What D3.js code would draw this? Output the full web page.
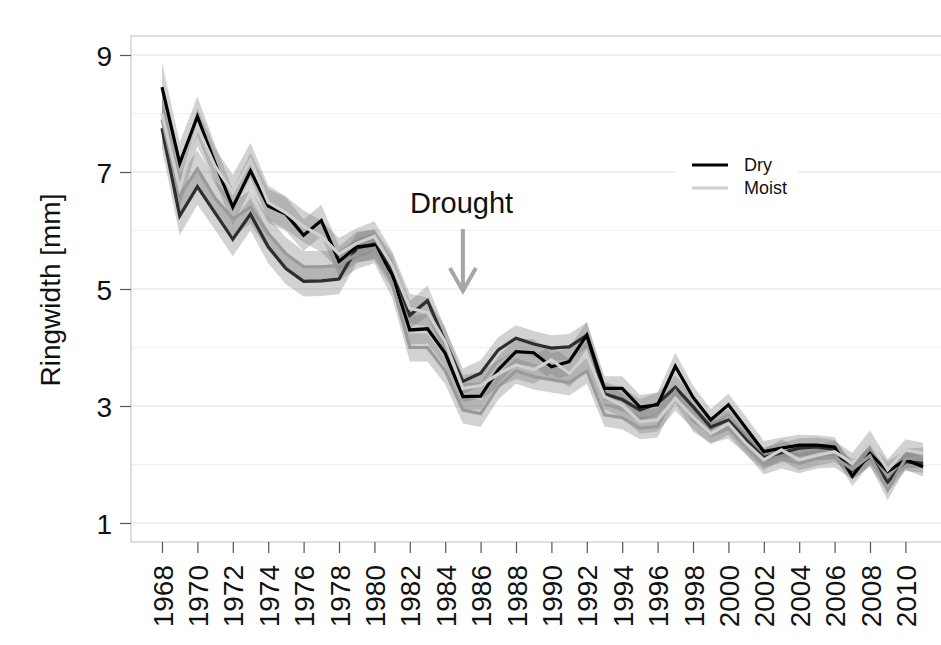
<!DOCTYPE html>
<html>
<head>
<meta charset="utf-8">
<script src="https://cdn.jsdelivr.net/npm/d3@7"></script>
<style>
  body { margin: 0; background: #fff; overflow: hidden; }
  text { font-family: "Liberation Sans", Arial, sans-serif; }
</style>
</head>
<body>
<div id="chart"></div>
<script>
// Years on the x axis
var years = [1968,1969,1970,1971,1972,1973,1974,1975,1976,1977,1978,1979,1980,1981,1982,1983,1984,1985,1986,1987,1988,1989,1990,1991,1992,1993,1994,1995,1996,1997,1998,1999,2000,2001,2002,2003,2004,2005,2006,2007,2008,2009,2010,2011];

// Mean ringwidth per stand [mm]
var dry1 = [8.45,7.15,7.95,7.15,6.40,7.02,6.42,6.28,5.92,6.17,5.47,5.72,5.75,5.25,4.30,4.32,3.90,3.16,3.17,3.62,3.93,3.91,3.67,3.76,4.21,3.30,3.30,2.98,3.02,3.68,3.15,2.76,3.02,2.62,2.22,2.28,2.33,2.33,2.30,1.80,2.19,1.88,2.08,1.96];
var dry2 = [7.75,6.25,6.75,6.30,5.85,6.28,5.72,5.35,5.13,5.14,5.17,5.70,5.77,5.35,4.55,4.80,4.10,3.42,3.56,3.96,4.16,4.06,3.99,4.01,4.21,3.21,3.11,2.93,3.04,3.32,2.99,2.64,2.76,2.42,2.12,2.20,2.28,2.30,2.26,1.90,2.13,1.70,2.05,2.02];
var moist1 = [8.00,6.72,7.77,7.10,6.65,7.20,6.48,6.30,6.07,5.90,5.60,5.78,5.90,5.40,4.67,4.60,4.10,3.30,3.35,3.55,3.70,3.62,3.79,3.56,3.87,3.16,3.01,2.73,2.76,3.13,2.81,2.53,2.70,2.36,2.08,2.25,2.08,2.16,2.22,2.02,2.39,1.91,2.25,2.19];
var moist2 = [7.90,6.60,7.05,6.55,6.20,6.40,5.95,5.60,5.38,5.38,5.40,5.60,5.70,5.10,4.00,4.00,3.60,2.93,2.87,3.33,3.60,3.50,3.45,3.40,3.60,2.85,2.80,2.62,2.65,3.25,2.75,2.55,2.62,2.35,2.00,2.10,2.02,2.10,2.12,1.92,2.15,1.56,2.10,2.12];

// Confidence half widths [mm]
var ciDry1 = [0.42,0.36,0.34,0.31,0.31,0.31,0.29,0.29,0.27,0.27,0.26,0.26,0.26,0.25,0.25,0.25,0.23,0.23,0.23,0.23,0.23,0.23,0.23,0.23,0.23,0.21,0.21,0.21,0.21,0.23,0.20,0.19,0.19,0.19,0.18,0.18,0.18,0.17,0.17,0.17,0.18,0.17,0.17,0.17];
var ciDry2 = [0.36,0.33,0.31,0.29,0.29,0.28,0.28,0.27,0.26,0.26,0.26,0.26,0.25,0.25,0.24,0.26,0.23,0.22,0.22,0.22,0.22,0.22,0.22,0.22,0.22,0.20,0.20,0.19,0.19,0.20,0.19,0.18,0.18,0.18,0.17,0.17,0.17,0.16,0.16,0.16,0.17,0.17,0.16,0.16];
var ciMoist1 = [0.40,0.34,0.33,0.31,0.30,0.30,0.29,0.28,0.27,0.27,0.27,0.26,0.26,0.25,0.25,0.25,0.24,0.23,0.23,0.23,0.24,0.24,0.24,0.24,0.24,0.21,0.21,0.20,0.20,0.21,0.20,0.19,0.19,0.19,0.18,0.18,0.18,0.18,0.18,0.18,0.19,0.18,0.18,0.18];
var ciMoist2 = [0.37,0.35,0.32,0.30,0.29,0.29,0.28,0.28,0.27,0.27,0.26,0.26,0.26,0.25,0.24,0.24,0.23,0.23,0.23,0.22,0.22,0.22,0.22,0.22,0.22,0.20,0.20,0.19,0.19,0.20,0.19,0.18,0.18,0.18,0.17,0.17,0.17,0.17,0.17,0.17,0.17,0.17,0.17,0.17];

var yTicks = [1,3,5,7,9];
var yGrid = [1,2,3,4,5,6,7,8,9];
var xTicks = years.filter(function(d, i) { return i % 2 === 0; });

// Stands, dry first then moist (drawing order)
var stands = [
  { name: "Dry",   mean: dry2,   ci: ciDry2,   color: "#2e2e2e" },
  { name: "Dry",   mean: dry1,   ci: ciDry1,   color: "#000000" },
  { name: "Moist", mean: moist2, ci: ciMoist2, color: "#9a9a9a" },
  { name: "Moist", mean: moist1, ci: ciMoist1, color: "#cfcfcf" }
];

var W = 941, H = 645;
var panel = { left: 131, top: 36, right: 960, bottom: 542 };

var svg = d3.select("#chart")
  .append("svg")
  .attr("width", W)
  .attr("height", H);

// Scales
var x = d3.scaleLinear().domain([1968, 2011]).range([162, 923.1]);
var y = d3.scaleLinear().domain([1, 9]).range([523, 55]);

// Panel background and grid
svg.append("rect")
  .attr("x", panel.left)
  .attr("y", panel.top)
  .attr("width", panel.right - panel.left)
  .attr("height", panel.bottom - panel.top)
  .attr("fill", "#fff");

svg.append("g").selectAll("line")
  .data(yGrid)
  .enter().append("line")
  .attr("x1", panel.left)
  .attr("x2", panel.right)
  .attr("y1", function(d) { return y(d); })
  .attr("y2", function(d) { return y(d); })
  .attr("stroke", function(d) { return d % 2 === 1 ? "#ebebeb" : "#f3f3f3"; })
  .attr("stroke-width", 1.5);

// Bands
var area = d3.area()
  .x(function(d) { return x(d.year); })
  .y0(function(d) { return y(d.mean - d.ci); })
  .y1(function(d) { return y(d.mean + d.ci); });

var line = d3.line()
  .x(function(d) { return x(d.year); })
  .y(function(d) { return y(d.mean); });

function rows(s) {
  return years.map(function(yr, i) { return { year: yr, mean: s.mean[i], ci: s.ci[i] }; });
}

svg.append("g").selectAll("path")
  .data(stands)
  .enter().append("path")
  .attr("d", function(s) { return area(rows(s)); })
  .attr("fill", "#777")
  .attr("fill-opacity", 0.33);

svg.append("g").selectAll("path")
  .data(stands)
  .enter().append("path")
  .attr("d", function(s) { return line(rows(s)); })
  .attr("fill", "none")
  .attr("stroke", function(s) { return s.color; })
  .attr("stroke-width", 3.2)
  .attr("stroke-linejoin", "miter");

// Panel border
svg.append("rect")
  .attr("x", panel.left)
  .attr("y", panel.top)
  .attr("width", panel.right - panel.left)
  .attr("height", panel.bottom - panel.top)
  .attr("fill", "none")
  .attr("stroke", "#c8c8c8")
  .attr("stroke-width", 1.2);

// Y axis
var yAxis = svg.append("g")
  .attr("transform", "translate(" + panel.left + ",0)")
  .call(d3.axisLeft(y).tickValues(yTicks).tickSize(11).tickPadding(8).tickFormat(d3.format("d")));
yAxis.select(".domain").remove();
yAxis.selectAll(".tick line").attr("stroke", "#555").attr("stroke-width", 1.2);
yAxis.selectAll(".tick text")
  .attr("font-size", 28)
  .attr("fill", "#111")
  .attr("dy", "0.36em");

// X axis
var xAxis = svg.append("g")
  .attr("transform", "translate(0," + panel.bottom + ")")
  .call(d3.axisBottom(x).tickValues(xTicks).tickSize(11).tickPadding(0).tickFormat(d3.format("d")));
xAxis.select(".domain").remove();
xAxis.selectAll(".tick line").attr("stroke", "#555").attr("stroke-width", 1.2);
xAxis.selectAll(".tick text")
  .attr("font-size", 28)
  .attr("fill", "#111")
  .attr("text-anchor", "end")
  .attr("transform", "translate(0,23) rotate(-90)")
  .attr("x", 0)
  .attr("y", 0)
  .attr("dy", "0.36em");

// Y axis title
svg.append("text")
  .attr("transform", "translate(60,290) rotate(-90)")
  .attr("text-anchor", "middle")
  .attr("font-size", 28)
  .attr("fill", "#111")
  .text("Ringwidth [mm]");

// Drought annotation
svg.append("text")
  .attr("x", 410)
  .attr("y", 213)
  .attr("font-size", 29)
  .attr("fill", "#111")
  .text("Drought");

var arrowX = x(1985);
svg.append("path")
  .attr("d", "M" + arrowX + "," + 229 + "V" + 291 +
             "M" + (arrowX - 13) + "," + 268 + "L" + arrowX + "," + 291 + "L" + (arrowX + 13) + "," + 268)
  .attr("fill", "none")
  .attr("stroke", "#a6a6a6")
  .attr("stroke-width", 4);

// Legend
var legend = svg.append("g");
legend.append("rect")
  .attr("x", 676)
  .attr("y", 150)
  .attr("width", 121)
  .attr("height", 54)
  .attr("fill", "#fff");

var legendItems = [
  { label: "Dry", color: "#000000" },
  { label: "Moist", color: "#cfcfcf" }
];
legendItems.forEach(function(d, i) {
  var ly = 165 + i * 23;
  legend.append("line")
    .attr("x1", 692).attr("x2", 728)
    .attr("y1", ly).attr("y2", ly)
    .attr("stroke", d.color)
    .attr("stroke-width", 3);
  legend.append("text")
    .attr("x", 744)
    .attr("y", ly + 6)
    .attr("font-size", 18)
    .attr("fill", "#111")
    .text(d.label);
});
</script>
</body>
</html>
